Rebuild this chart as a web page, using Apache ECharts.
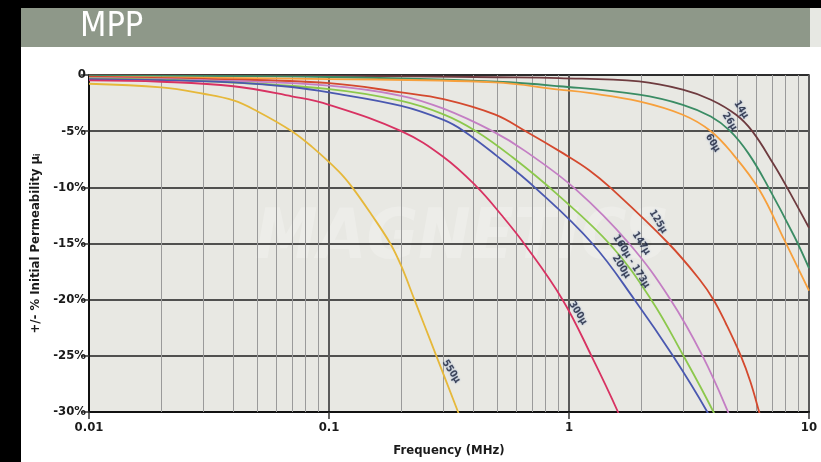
<!DOCTYPE html>
<html>
<head>
<meta charset="utf-8">
<script src="https://cdn.jsdelivr.net/npm/echarts@6/dist/echarts.min.js"></script>
<style>
  html, body { margin: 0; padding: 0; background: #ffffff; }
  #chart { width: 821px; height: 462px; }
</style>
</head>
<body>
<div id="chart"></div>
<script>
// Frequency (MHz) and change of initial permeability (%) for each MPP grade
const freq14  = [0.01, 0.1, 0.5, 0.91, 1.96, 2.98, 3.9, 4.97, 5.8, 7.1, 8.0, 10];
const pct14   = [-0.02, -0.08, -0.2, -0.27, -0.57, -1.3, -2.2, -3.54, -5.0, -7.9, -9.8, -13.6];

const freq26  = [0.01, 0.1, 0.5, 0.91, 1.96, 2.98, 3.9, 4.7, 5.6, 6.7, 8.7, 10];
const pct26   = [-0.05, -0.18, -0.6, -1.0, -1.75, -2.65, -3.7, -5.0, -7.0, -9.8, -14.4, -17.2];

const freq60  = [0.01, 0.1, 0.49, 0.91, 1.21, 1.96, 2.98, 3.9, 4.8, 6.2, 7.9, 10];
const pct60   = [-0.18, -0.36, -0.66, -1.3, -1.6, -2.35, -3.54, -5.0, -7.0, -10.2, -14.7, -19.2];

const freq125 = [0.01, 0.03, 0.1, 0.2, 0.3, 0.49, 0.66, 0.95, 1.21, 1.5, 2.6, 3.5, 4.0, 4.5, 5.2, 5.7, 6.2, 6.8];
const pct125  = [-0.15, -0.35, -0.72, -1.55, -2.14, -3.5, -5.0, -7.0, -8.45, -10.1, -15.0, -18.2, -20.0, -22.1, -25.0, -27.3, -30.0, -33.0];

const freq147 = [0.01, 0.03, 0.1, 0.2, 0.3, 0.48, 0.66, 1.07, 1.78, 2.65, 3.6, 4.6, 5.2];
const pct147  = [-0.25, -0.45, -0.95, -1.85, -3.0, -5.0, -6.8, -10.2, -15.0, -20.0, -25.0, -30.0, -33.0];

const freq160 = [0.01, 0.03, 0.1, 0.2, 0.3, 0.41, 0.58, 0.88, 1.5, 2.2, 3.0, 4.0, 4.5];
const pct160  = [-0.3, -0.55, -1.25, -2.3, -3.5, -5.0, -7.3, -10.5, -15.2, -20.0, -25.0, -30.0, -32.5];

const freq200 = [0.01, 0.02, 0.04, 0.07, 0.1, 0.2, 0.3, 0.365, 0.5, 0.72, 1.25, 1.875, 2.71, 3.77, 4.3];
const pct200  = [-0.36, -0.45, -0.66, -1.07, -1.55, -2.75, -4.0, -5.0, -7.2, -10.0, -15.0, -20.0, -25.0, -30.0, -32.5];

const freq300 = [0.01, 0.02, 0.04, 0.07, 0.1, 0.2, 0.3, 0.415, 0.52, 0.66, 0.94, 1.24, 1.6, 1.8];
const pct300  = [-0.48, -0.6, -1.0, -1.9, -2.65, -5.0, -7.3, -10.0, -12.4, -15.2, -20.0, -25.0, -30.0, -32.8];

const freq550 = [0.01, 0.02, 0.03, 0.04, 0.05, 0.07, 0.085, 0.11, 0.125, 0.15, 0.18, 0.2, 0.227, 0.25, 0.28, 0.345, 0.38];
const pct550  = [-0.78, -1.1, -1.67, -2.26, -3.2, -5.0, -6.4, -8.6, -10.0, -12.4, -15.0, -17.0, -20.0, -22.3, -25.0, -30.0, -32.3];

const gradeNames = ['14µ', '26µ', '60µ', '125µ', '147µ', '160µ - 173µ', '200µ', '300µ', '550µ'];
const gradeFreqs = [freq14, freq26, freq60, freq125, freq147, freq160, freq200, freq300, freq550];
const gradePcts  = [pct14, pct26, pct60, pct125, pct147, pct160, pct200, pct300, pct550];
const gradeColors = ['#6e3b3f', '#3a8c64', '#f7a03c', '#d4492e', '#c47ec4', '#8cc84c', '#4a58b0', '#d83262', '#e6b83a'];

// Where each grade's name is written beside its curve
const labelFreq = [5.22, 4.67, 3.97, 2.35, 2.0, 1.82, 1.65, 1.09, 0.323];
const labelPct  = [-3.09, -4.14, -6.06, -13.06, -14.98, -16.6, -17.07, -21.2, -26.4];

// Axis ticks
const yTicks = [0, -5, -10, -15, -20, -25, -30];
const xDecades = [0.01, 0.1, 1, 10];
const minorFreqs = [0.02, 0.03, 0.04, 0.05, 0.06, 0.07, 0.08, 0.09,
                    0.2, 0.3, 0.4, 0.5, 0.6, 0.7, 0.8, 0.9,
                    2, 3, 4, 5, 6, 7, 8, 9];

const FONT = '"DejaVu Sans Condensed", "Liberation Sans Narrow", sans-serif';

const chart = echarts.init(document.getElementById('chart'), null, { renderer: 'canvas' });

const curveSeries = gradeNames.map((name, k) => ({
  name: name,
  type: 'line',
  data: gradeFreqs[k].map((f, i) => [f, gradePcts[k][i]]),
  smooth: 0.4,
  showSymbol: false,
  symbol: 'none',
  clip: true,
  lineStyle: { color: gradeColors[k], width: 1.8 },
  z: 5,
  silent: true
}));

const option = {
  animation: false,
  backgroundColor: '#ffffff',
  graphic: [
    { type: 'rect', shape: { x: 0, y: 0, width: 821, height: 8 }, style: { fill: '#000000' } },
    { type: 'rect', shape: { x: 0, y: 0, width: 21, height: 462 }, style: { fill: '#000000' } },
    { type: 'rect', shape: { x: 21, y: 8, width: 789, height: 39 }, style: { fill: '#8e9889' } },
    { type: 'rect', shape: { x: 810, y: 8, width: 11, height: 39 }, style: { fill: '#e7e8e3' } },
    { type: 'text', left: 80, top: 10, style: { text: 'MPP', fill: '#ffffff', font: '34px ' + FONT } },
    { type: 'text', left: 255, top: 205, z: 0,
      style: { text: 'MAGNETICS', fill: 'rgba(255,255,255,0.22)', font: 'italic bold 70px ' + FONT } }
  ],
  grid: {
    left: 89, right: 12, top: 75, bottom: 50,
    show: true,
    backgroundColor: '#e8e8e3',
    borderColor: '#2a2a2a',
    borderWidth: 1.5
  },
  xAxis: {
    type: 'log',
    logBase: 10,
    min: 0.01,
    max: 10,
    name: 'Frequency (MHz)',
    nameLocation: 'middle',
    nameGap: 32,
    nameTextStyle: { fontFamily: FONT, fontWeight: 'bold', fontSize: 13, color: '#1a1a1a' },
    axisLine: { show: true, onZero: false, lineStyle: { color: '#111111', width: 2 } },
    axisTick: { show: true, length: 7, lineStyle: { color: '#333333', width: 1.5 } },
    axisLabel: {
      margin: 9,
      fontFamily: FONT, fontWeight: 'bold', fontSize: 13, color: '#1a1a1a',
      formatter: v => {
        const hit = xDecades.find(d => Math.abs(d - v) / d < 1e-6);
        return hit === undefined ? '' : String(hit);
      }
    },
    splitLine: { show: true, lineStyle: { color: '#5a5a5a', width: 2 } }
  },
  yAxis: {
    type: 'value',
    min: -30,
    max: 0,
    interval: 5,
    name: '+/- % Initial Permeability µ{sub|i}',
    nameLocation: 'middle',
    nameGap: 44,
    nameRotate: 90,
    nameTextStyle: {
      fontFamily: FONT, fontWeight: 'bold', fontSize: 13, color: '#1a1a1a',
      rich: { sub: { fontFamily: FONT, fontWeight: 'bold', fontSize: 8, color: '#1a1a1a', verticalAlign: 'bottom', padding: [6, 0, 0, 0] } }
    },
    axisLine: { show: true, lineStyle: { color: '#111111', width: 2 } },
    axisTick: { show: true, length: 8, lineStyle: { color: '#333333', width: 1.5 } },
    axisLabel: {
      margin: 3,
      fontFamily: FONT, fontWeight: 'bold', fontSize: 13, color: '#1a1a1a',
      formatter: v => (yTicks.indexOf(v) < 0 ? '' : (v === 0 ? '0' : v + '%'))
    },
    splitLine: { show: true, lineStyle: { color: '#1e1e1e', width: 1.5 } }
  },
  series: [
    {
      name: 'minor grid',
      type: 'line',
      data: [],
      silent: true,
      z: 1,
      markLine: {
        silent: true,
        symbol: ['none', 'none'],
        label: { show: false },
        lineStyle: { color: '#9a9a9a', width: 1, type: 'solid' },
        data: minorFreqs.map(f => ({ xAxis: f }))
      }
    },
    ...curveSeries,
    {
      name: 'grade labels',
      type: 'scatter',
      symbolSize: 0,
      silent: true,
      z: 6,
      data: labelFreq.map((f, i) => [f, labelPct[i], gradeNames[i]]),
      label: {
        show: true,
        position: 'inside',
        rotate: -58,
        formatter: p => p.value[2],
        fontFamily: FONT,
        fontWeight: 'bold',
        fontSize: 10,
        color: '#1b2238',
        textShadowColor: 'rgba(70,110,190,0.6)',
        textShadowBlur: 2
      }
    }
  ]
};

chart.setOption(option);
</script>
</body>
</html>
